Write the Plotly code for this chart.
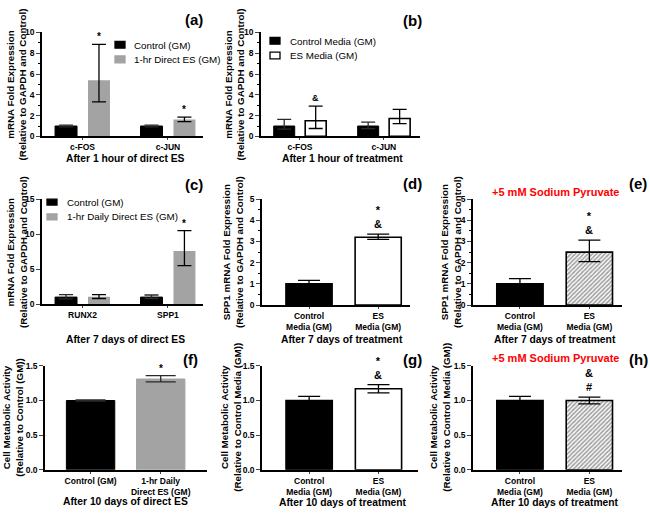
import plotly.graph_objects as go

W, H = 650, 515

# ---------------- data ----------------
a_categories = ['c-FOS', 'c-JUN']
a_control = [1.0, 1.0]
a_control_up = [0.08, 0.08]
a_control_dn = [0.08, 0.08]
a_es = [5.4, 1.62]
a_es_up = [3.45, 0.23]
a_es_dn = [2.08, 0.2]

b_categories = ['c-FOS', 'c-JUN']
b_control = [1.0, 1.0]
b_control_up = [0.64, 0.38]
b_control_dn = [0.3, 0.25]
b_es = [1.5, 1.72]
b_es_up = [1.42, 0.88]
b_es_dn = [0.74, 0.5]

c_categories = ['RUNX2', 'SPP1']
c_control = [1.0, 1.0]
c_control_up = [0.35, 0.3]
c_control_dn = [0.25, 0.2]
c_es = [1.05, 7.6]
c_es_up = [0.3, 2.9]
c_es_dn = [0.25, 2.1]

media_categories = ['Control<br>Media (GM)', 'ES<br>Media (GM)']
d_values = [1.0, 3.2]
d_up = [0.17, 0.15]
d_dn = [0.15, 0.1]

e_values = [1.0, 2.5]
e_up = [0.25, 0.57]
e_dn = [0.22, 0.45]

f_categories = ['Control (GM)', '1-hr Daily<br>Direct ES (GM)']
f_values = [1.0, 1.31]
f_up = [0.01, 0.05]
f_dn = [0.01, 0.04]

g_values = [1.0, 1.17]
g_up = [0.06, 0.06]
g_dn = [0.06, 0.06]

h_values = [1.0, 1.0]
h_up = [0.06, 0.05]
h_dn = [0.06, 0.05]

# ---------------- style ----------------
FONT = 'Arial, Liberation Sans, sans-serif'
GRAY = '#a3a3a3'
ERRC = '#2a2a2a'
LEGFS = 9.8
XTFS = 10.3
YTFS = 8.5

fig = go.Figure()
layout = dict(width=W, height=H, margin=dict(l=0, r=0, t=0, b=0),
              plot_bgcolor='white', paper_bgcolor='white', showlegend=False,
              barmode='overlay', font=dict(family=FONT, color='black'))
annotations = []
shapes = []


def px_dom(a, b, total):
    return [a / total, b / total]


def ydom(top, bot):
    return [1 - bot / H, 1 - top / H]


def add_axes(i, xpx, ypx, xrange, yrange, dtick, minor=None, tickfs=8.5, fmt=None):
    xn = 'xaxis' if i == 1 else f'xaxis{i}'
    yn = 'yaxis' if i == 1 else f'yaxis{i}'
    layout[xn] = dict(domain=px_dom(xpx[0], xpx[1], W), range=xrange, type='category',
                      anchor=f'y{i}' if i > 1 else 'y', showline=True, linecolor='black',
                      linewidth=1.5, ticks='outside', ticklen=2, tickwidth=1.2,
                      tickfont=dict(size=tickfs, weight='bold', family=FONT),
                      showgrid=False, zeroline=False, fixedrange=True)
    ya = dict(domain=ydom(ypx[0], ypx[1]), range=yrange, dtick=dtick,
              anchor=f'x{i}' if i > 1 else 'x', showline=True, linecolor='black',
              linewidth=1.5, ticks='outside', ticklen=4, tickwidth=1.2,
              tickfont=dict(size=YTFS, weight='bold', family=FONT),
              showgrid=False, zeroline=False, fixedrange=True)
    if fmt:
        ya['tickformat'] = fmt
    if minor:
        ya['minor'] = dict(ticks='outside', ticklen=2, dtick=minor, tickcolor='black')
    layout[yn] = ya


def axref(i):
    return ('x' if i == 1 else f'x{i}'), ('y' if i == 1 else f'y{i}')


def grouped(i, cats, ctrl, cu, cd, es, eu, ed, es_fill, es_line_w, bw, capw):
    xr, yr = axref(i)
    gap = bw / 2.0
    fig.add_trace(go.Bar(x=cats, y=ctrl, xaxis=xr, yaxis=yr, width=bw, offset=-bw - gap / 2,
                         marker=dict(color='black', line=dict(color='black', width=1)),
                         error_y=dict(type='data', symmetric=False, array=cu, arrayminus=cd,
                                      color=ERRC, thickness=1.3, width=capw)))
    fig.add_trace(go.Bar(x=cats, y=es, xaxis=xr, yaxis=yr, width=bw, offset=gap / 2,
                         marker=dict(color=es_fill, line=dict(color='black' if es_line_w else es_fill,
                                                              width=es_line_w if es_line_w else 0)),
                         error_y=dict(type='data', symmetric=False, array=eu, arrayminus=ed,
                                      color='black', thickness=1.3, width=capw)))
    return gap


def single(i, cats, vals, up, dn, second_fill, pattern, bw, capw):
    xr, yr = axref(i)
    marker = dict(color=['black', second_fill], line=dict(color='black', width=1.6))
    if pattern:
        marker['pattern'] = dict(shape=['', '/'], fgcolor='black', bgcolor='white',
                                 size=3, solidity=0.55)
    fig.add_trace(go.Bar(x=cats, y=vals, xaxis=xr, yaxis=yr, width=bw, marker=marker,
                         error_y=dict(type='data', symmetric=False, array=up, arrayminus=dn,
                                      color='black', thickness=1.3, width=capw)))


def sig(i, x, y, text, shift=2, size=11):
    xr, yr = axref(i)
    annotations.append(dict(x=x, y=y, xref=xr, yref=yr, text=text, showarrow=False,
                            yanchor='bottom', yshift=shift, align='center',
                            font=dict(size=size, weight='bold', family=FONT)))


def ptext(x, y, text, size=11, bold=True, color='black', xanchor='center', angle=0):
    annotations.append(dict(x=x / W, y=1 - y / H, xref='paper', yref='paper', text=text,
                            showarrow=False, xanchor=xanchor, yanchor='middle',
                            textangle=angle, align='center',
                            font=dict(size=size, weight='bold' if bold else 'normal',
                                      color=color, family=FONT)))


def legend_box(x0, y0, x1, y1, fill, line='black'):
    shapes.append(dict(type='rect', xref='paper', yref='paper', x0=x0 / W, x1=x1 / W,
                       y0=1 - y1 / H, y1=1 - y0 / H, fillcolor=fill,
                       line=dict(color=line, width=1.3)))


YT = 9.8  # y-title font size

# ---------------- panel (a) ----------------
add_axes(1, (42, 203), (28, 134), [-0.474, 1.41], [0, 10], 2, minor=1)
bw = 0.257
gap = grouped(1, a_categories, a_control, a_control_up, a_control_dn,
              a_es, a_es_up, a_es_dn, GRAY, 0, bw, 7)
for k in range(2):
    sig(1, k + gap / 2 + bw / 2, a_es[k] + a_es_up[k], '*', shift=0, size=10)
legend_box(115, 37, 125, 44, 'black')
legend_box(115, 52, 125, 59, GRAY, GRAY)
ptext(132, 41, 'Control (GM)', size=LEGFS, bold=False, xanchor='left')
ptext(132, 56, '1-hr Direct ES (GM)', size=LEGFS, bold=False, xanchor='left')
ptext(17, 81, 'mRNA Fold Expression<br>(Relative to GAPDH and Control)', size=YT, angle=-90)
ptext(125, 157, 'After 1 hour of direct ES', size=XTFS)
ptext(194, 15, '(a)', size=15)

# ---------------- panel (b) ----------------
add_axes(2, (261, 420), (28, 134), [-0.464, 1.43], [0, 10], 2, minor=1)
bw = 0.25
gap = grouped(2, b_categories, b_control, b_control_up, b_control_dn,
              b_es, b_es_up, b_es_dn, 'white', 1.6, bw, 7)
sig(2, 0 + gap / 2 + bw / 2, b_es[0] + b_es_up[0], '&', shift=1, size=9)
legend_box(270, 33, 280, 40, 'black')
legend_box(270, 48, 280, 55, 'white')
ptext(288, 37, 'Control Media (GM)', size=LEGFS, bold=False, xanchor='left')
ptext(288, 51, 'ES Media (GM)', size=LEGFS, bold=False, xanchor='left')
ptext(235, 81, 'mRNA Fold Expression<br>(Relative to GAPDH and Control)', size=YT, angle=-90)
ptext(342, 157, 'After 1 hour of treatment', size=XTFS)
ptext(412, 16, '(b)', size=15)

# ---------------- panel (c) ----------------
add_axes(3, (42, 203), (198, 305), [-0.474, 1.41], [0, 15], 5)
bw = 0.257
gap = grouped(3, c_categories, c_control, c_control_up, c_control_dn,
              c_es, c_es_up, c_es_dn, GRAY, 0, bw, 7)
sig(3, 1 + gap / 2 + bw / 2, c_es[1] + c_es_up[1], '*', shift=0, size=10)
legend_box(47, 198, 57, 204, 'black')
legend_box(47, 213, 57, 219, GRAY, GRAY)
ptext(65, 201, 'Control (GM)', size=LEGFS, bold=False, xanchor='left')
ptext(65, 216, '1-hr Daily Direct ES (GM)', size=LEGFS, bold=False, xanchor='left')
ptext(17, 252, 'mRNA Fold Expression<br>(Relative to GAPDH and Control)', size=YT, angle=-90)
ptext(125, 341, 'After 7 days of direct ES', size=XTFS)
ptext(194, 183, '(c)', size=15)

# ---------------- panel (d) ----------------
add_axes(4, (262, 410), (198, 306), [-0.68, 1.46], [0, 5], 1, minor=0.5)
single(4, media_categories, d_values, d_up, d_dn, 'white', False, 0.667, 11)
sig(4, 1, d_values[1] + d_up[1], '*<br>&', shift=2, size=11)
ptext(233, 252, 'SPP1 mRNA Fold Expression<br>(Relative to GAPDH and Control)', size=YT, angle=-90)
ptext(342, 341, 'After 7 days of treatment', size=XTFS)
ptext(412, 182, '(d)', size=15)

# ---------------- panel (e) ----------------
add_axes(5, (473, 622), (198, 306), [-0.676, 1.47], [0, 5], 1, minor=0.5)
single(5, media_categories, e_values, e_up, e_dn, 'white', True, 0.667, 11)
sig(5, 1, e_values[1] + e_up[1], '*<br>&', shift=2, size=11)
ptext(451, 252, 'SPP1 mRNA Fold Expression<br>(Relative to GAPDH and Control)', size=YT, angle=-90)
ptext(555, 341, 'After 7 days of treatment', size=XTFS)
ptext(555, 191, '+5 mM Sodium Pyruvate', size=11, color='#ff0000')
ptext(638, 182, '(e)', size=15)

# ---------------- panel (f) ----------------
add_axes(6, (45, 207), (368, 474), [-0.65, 1.66], [0, 1.5], 0.5, fmt='.1f')
xr, yr = axref(6)
fig.add_trace(go.Bar(x=f_categories, y=f_values, xaxis=xr, yaxis=yr, width=0.69,
                     marker=dict(color=['black', GRAY], line=dict(color=['black', GRAY], width=1)),
                     error_y=dict(type='data', symmetric=False, array=f_up, arrayminus=f_dn,
                                  color=ERRC, thickness=1.3, width=15)))
sig(6, 1, f_values[1] + f_up[1], '*', shift=0, size=10)
ptext(13, 421, 'Cell Metabolic Activity<br>(Relative to Control (GM))', size=YT, angle=-90)
ptext(125, 506, 'After 10 days of direct ES', size=XTFS)
ptext(190, 362, '(f)', size=15)

# ---------------- panel (g) ----------------
add_axes(7, (262, 418), (368, 474), [-0.68, 1.57], [0, 1.5], 0.5, fmt='.1f')
single(7, media_categories, g_values, g_up, g_dn, 'white', False, 0.667, 11)
sig(7, 1, g_values[1] + g_up[1], '*<br>&', shift=2, size=11)
ptext(231, 421, 'Cell Metabolic Activity<br>(Relative to Control Media (GM))', size=YT, angle=-90)
ptext(343, 507, 'After 10 days of treatment', size=XTFS)
ptext(412, 362, '(g)', size=15)

# ---------------- panel (h) ----------------
add_axes(8, (473, 622), (368, 474), [-0.676, 1.47], [0, 1.5], 0.5, fmt='.1f')
single(8, media_categories, h_values, h_up, h_dn, 'white', True, 0.667, 11)
sig(8, 1, h_values[1] + h_up[1], '&<br>#', shift=2, size=11)
ptext(440, 421, 'Cell Metabolic Activity<br>(Relative to Control Media (GM))', size=YT, angle=-90)
ptext(555, 507, 'After 10 days of treatment', size=XTFS)
ptext(555, 360, '+5 mM Sodium Pyruvate', size=11, color='#ff0000')
ptext(638, 362, '(h)', size=15)

layout['annotations'] = annotations
layout['shapes'] = shapes
fig.update_layout(**layout)
fig.write_html('out.html', config={'displayModeBar': False},
               post_script="document.body.style.margin='0px';")
